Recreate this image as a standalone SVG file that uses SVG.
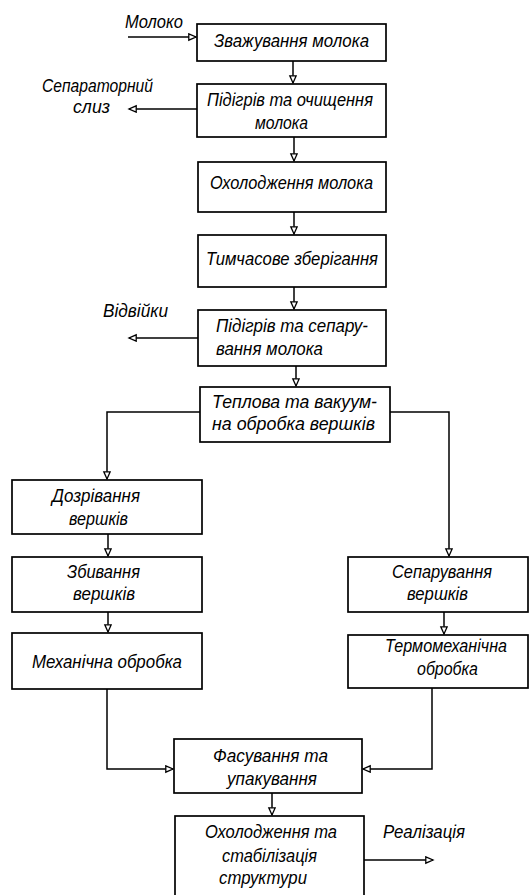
<svg xmlns="http://www.w3.org/2000/svg" width="529" height="895" viewBox="0 0 529 895">
<style>
.box{fill:#fff;stroke:#000;stroke-width:1.7}
.ln{fill:none;stroke:#000;stroke-width:1.5}
.t{font-family:"Liberation Sans",Arial,sans-serif;font-style:italic;font-size:18px;fill:#000}
.m{text-anchor:start}
</style>
<defs>
<marker id="ah" markerUnits="userSpaceOnUse" markerWidth="12" markerHeight="10" refX="8" refY="4" orient="auto">
<path d="M0.8,0.8 L8,4 L0.8,7.2 Z" fill="#fff" stroke="#000" stroke-width="1.3"/>
</marker>
</defs>
<rect width="529" height="895" fill="#fff"/>
<g id="connectors">
<line class="ln" x1="128" y1="37" x2="196" y2="37" marker-end="url(#ah)"/>
<line class="ln" x1="293" y1="61" x2="293" y2="83" marker-end="url(#ah)"/>
<line class="ln" x1="197" y1="109" x2="129" y2="109" marker-end="url(#ah)"/>
<line class="ln" x1="294" y1="137" x2="294" y2="161" marker-end="url(#ah)"/>
<line class="ln" x1="294" y1="212" x2="294" y2="234" marker-end="url(#ah)"/>
<line class="ln" x1="294" y1="287" x2="294" y2="309" marker-end="url(#ah)"/>
<line class="ln" x1="198" y1="338" x2="129" y2="338" marker-end="url(#ah)"/>
<line class="ln" x1="296" y1="366" x2="296" y2="386" marker-end="url(#ah)"/>
<polyline class="ln" points="200,412 107,412 107,479" marker-end="url(#ah)"/>
<polyline class="ln" points="390,412 449,412 449,556" marker-end="url(#ah)"/>
<line class="ln" x1="108" y1="534" x2="108" y2="556" marker-end="url(#ah)"/>
<line class="ln" x1="108" y1="612" x2="108" y2="632" marker-end="url(#ah)"/>
<line class="ln" x1="444" y1="612" x2="444" y2="634" marker-end="url(#ah)"/>
<polyline class="ln" points="107,689 107,769 173,769" marker-end="url(#ah)"/>
<polyline class="ln" points="432,688 432,769 363,769" marker-end="url(#ah)"/>
<line class="ln" x1="272" y1="793" x2="272" y2="815" marker-end="url(#ah)"/>
<line class="ln" x1="364" y1="860" x2="433" y2="860" marker-end="url(#ah)"/>
</g>
<g id="label-moloko"><text class="t m" x="125" y="28" textLength="58" lengthAdjust="spacingAndGlyphs">Молоко</text></g>
<g id="label-sliz">
<text class="t m" x="42" y="92" textLength="111" lengthAdjust="spacingAndGlyphs">Сепараторний</text>
<text class="t m" x="73" y="113" textLength="37" lengthAdjust="spacingAndGlyphs">слиз</text>
</g>
<g id="label-vidviyky"><text class="t m" x="103" y="317" textLength="65" lengthAdjust="spacingAndGlyphs">Відвійки</text></g>
<g id="label-realizatsiya"><text class="t m" x="383" y="838" textLength="82" lengthAdjust="spacingAndGlyphs">Реалізація</text></g>
<g id="n1">
<rect class="box" x="197" y="24" width="189" height="37"/>
<text class="t m" x="214" y="47" textLength="155" lengthAdjust="spacingAndGlyphs">Зважування молока</text>
</g>
<g id="n2">
<rect class="box" x="197" y="84" width="189" height="53"/>
<text class="t m" x="207" y="106" textLength="166" lengthAdjust="spacingAndGlyphs">Підігрів та очищення</text>
<text class="t m" x="255" y="129" textLength="53" lengthAdjust="spacingAndGlyphs">молока</text>
</g>
<g id="n3">
<rect class="box" x="198" y="162" width="188" height="50"/>
<text class="t m" x="210" y="189" textLength="163" lengthAdjust="spacingAndGlyphs">Охолодження молока</text>
</g>
<g id="n4">
<rect class="box" x="198" y="235" width="188" height="52"/>
<text class="t m" x="206" y="265" textLength="172" lengthAdjust="spacingAndGlyphs">Тимчасове зберігання</text>
</g>
<g id="n5">
<rect class="box" x="198" y="310" width="188" height="56"/>
<text class="t m" x="216" y="332" textLength="152" lengthAdjust="spacingAndGlyphs">Підігрів та сепару-</text>
<text class="t m" x="216" y="355" textLength="107" lengthAdjust="spacingAndGlyphs">вання молока</text>
</g>
<g id="n6">
<rect class="box" x="200" y="387" width="190" height="55"/>
<text class="t m" x="212" y="408" textLength="165" lengthAdjust="spacingAndGlyphs">Теплова та вакуум-</text>
<text class="t m" x="212" y="430" textLength="163" lengthAdjust="spacingAndGlyphs">на обробка вершків</text>
</g>
<g id="n7">
<rect class="box" x="12" y="480" width="190" height="54"/>
<text class="t m" x="52" y="502" textLength="88" lengthAdjust="spacingAndGlyphs">Дозрівання</text>
<text class="t m" x="69" y="525" textLength="59" lengthAdjust="spacingAndGlyphs">вершків</text>
</g>
<g id="n8">
<rect class="box" x="12" y="557" width="190" height="55"/>
<text class="t m" x="67" y="578" textLength="73" lengthAdjust="spacingAndGlyphs">Збивання</text>
<text class="t m" x="73" y="600" textLength="62" lengthAdjust="spacingAndGlyphs">вершків</text>
</g>
<g id="n9">
<rect class="box" x="12" y="633" width="190" height="56"/>
<text class="t m" x="32" y="668" textLength="150" lengthAdjust="spacingAndGlyphs">Механічна обробка</text>
</g>
<g id="n10">
<rect class="box" x="348" y="557" width="180" height="55"/>
<text class="t m" x="392" y="578" textLength="100" lengthAdjust="spacingAndGlyphs">Сепарування</text>
<text class="t m" x="407" y="600" textLength="61" lengthAdjust="spacingAndGlyphs">вершків</text>
</g>
<g id="n11">
<rect class="box" x="348" y="635" width="180" height="53"/>
<text class="t m" x="385" y="652" textLength="122" lengthAdjust="spacingAndGlyphs">Термомеханічна</text>
<text class="t m" x="417" y="675" textLength="61" lengthAdjust="spacingAndGlyphs">обробка</text>
</g>
<g id="n12">
<rect class="box" x="174" y="739" width="188" height="54"/>
<text class="t m" x="213" y="762" textLength="115" lengthAdjust="spacingAndGlyphs">Фасування та</text>
<text class="t m" x="227" y="785" textLength="90" lengthAdjust="spacingAndGlyphs">упакування</text>
</g>
<g id="n13">
<rect class="box" x="175" y="816" width="189" height="90"/>
<text class="t m" x="205" y="838" textLength="132" lengthAdjust="spacingAndGlyphs">Охолодження та</text>
<text class="t m" x="222" y="862" textLength="95" lengthAdjust="spacingAndGlyphs">стабілізація</text>
<text class="t m" x="219" y="884" textLength="88" lengthAdjust="spacingAndGlyphs">структури</text>
</g>
</svg>
